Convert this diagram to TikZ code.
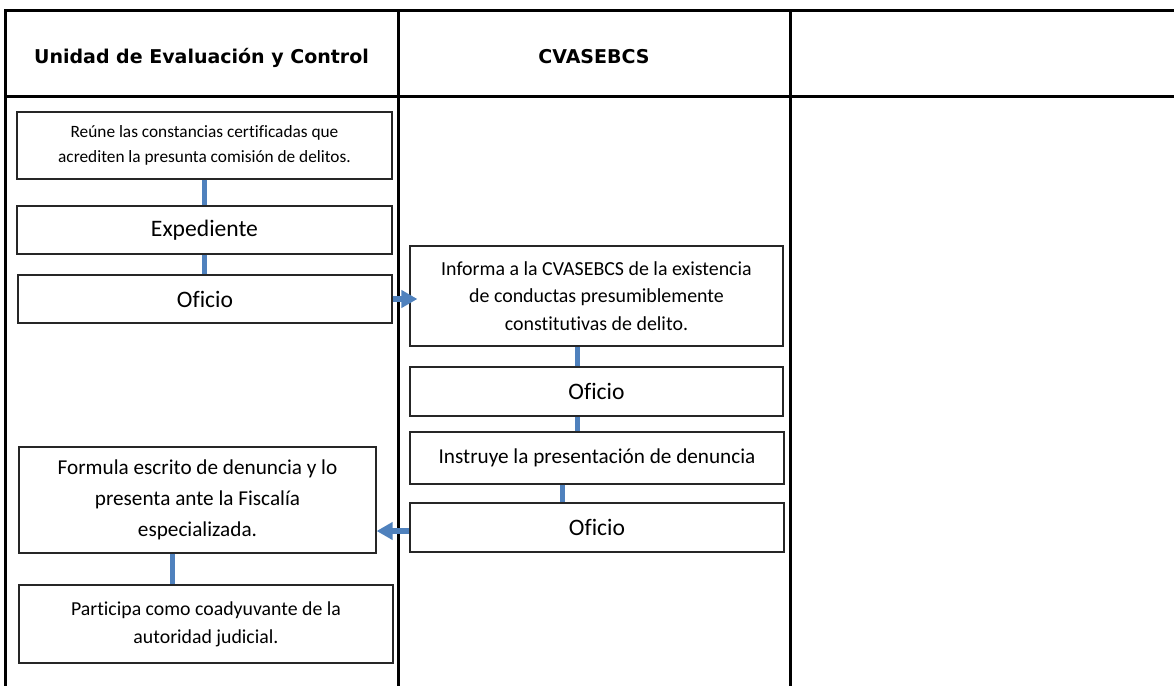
\documentclass[tikz,border=0pt]{standalone}
\usepackage{fontspec}
\setmainfont[Ligatures=NoCommon]{Carlito}
\newfontfamily\headfont{DejaVu Sans}
\usepackage{tikz}
\usetikzlibrary{arrows.meta}
\definecolor{flujo}{RGB}{79,129,189}

\begin{document}
\begin{tikzpicture}[x=0.5pt,y=-0.5pt,
	caja/.style={draw=black!85,line width=0.6pt,inner sep=0pt,align=center},
	enlace/.style={flujo,line width=2.5pt},
	flecha/.style={flujo,line width=3pt,-{Triangle[width=8.5pt,length=8pt]}},
	titulo/.style={anchor=base,font=\headfont\bfseries\fontsize{9.5}{11}\selectfont},
	rejilla/.style={line width=1.5pt}]
	\useasboundingbox (0,0) rectangle (1174,686);
	\draw[rejilla] (5,686) -- (5,10) -- (1174,10);
	\draw[rejilla] (5,96) -- (1174,96);
	\draw[rejilla] (398,10) -- (398,686);
	\draw[rejilla] (790,10) -- (790,686);
	\node[titulo] (uec) at (201.5,63) {Unidad de Evaluación y Control};
	\node[titulo] (cva) at (594,63) {CVASEBCS};
	\node[caja,minimum width=187.5pt,minimum height=33.5pt,font=\fontsize{8.65}{12.25}\selectfont] (reune) at (204.5,145.5) {Reúne las constancias certificadas que\\acrediten la presunta comisión de delitos.};
	\node[caja,minimum width=187.5pt,minimum height=24pt,font=\fontsize{11.8}{14}\selectfont] (exped) at (204.5,230) {Expediente};
	\node[caja,minimum width=187pt,minimum height=24pt,font=\fontsize{11.8}{14}\selectfont] (oficioA) at (205,299) {Oficio};
	\node[caja,minimum width=186.5pt,minimum height=50pt,font=\fontsize{9.95}{13.75}\selectfont] (informa) at (596.5,296) {Informa a la CVASEBCS de la existencia\\de conductas presumiblemente\\constitutivas de delito.};
	\node[caja,minimum width=186.5pt,minimum height=24.5pt,font=\fontsize{11.8}{14}\selectfont] (oficioB) at (596.5,391.5) {Oficio};
	\node[caja,minimum width=187pt,minimum height=26pt,font=\fontsize{10.6}{13}\selectfont] (instruye) at (597,458) {Instruye la presentación de denuncia};
	\node[caja,minimum width=187pt,minimum height=24.5pt,font=\fontsize{11.8}{14}\selectfont] (oficioC) at (597,527.5) {Oficio};
	\node[caja,minimum width=178.5pt,minimum height=53pt,font=\fontsize{10.6}{15.5}\selectfont] (formula) at (197.5,500) {Formula escrito de denuncia y lo\\presenta ante la Fiscalía\\especializada.};
	\node[caja,minimum width=187pt,minimum height=39pt,font=\fontsize{9.9}{14}\selectfont] (participa) at (206,624) {Participa como coadyuvante de la\\autoridad judicial.};
	\draw[enlace] (reune.south) -- (exped.north);
	\draw[enlace] (exped.south) -- (exped.south |- oficioA.north);
	\draw[enlace] ([xshift=-9.75pt]informa.south) -- ([xshift=-9.75pt]oficioB.north);
	\draw[enlace] ([xshift=-9.75pt]oficioB.south) -- ([xshift=-9.75pt]oficioB.south |- instruye.north);
	\draw[enlace] ([xshift=-17.5pt]instruye.south) -- ([xshift=-17.5pt]oficioC.north);
	\draw[enlace] ([xshift=-12.75pt]formula.south) -- ([xshift=-12.75pt]formula.south |- participa.north);
	\draw[flecha,shorten >=-4pt] (oficioA.east) -- (oficioA.east -| informa.west);
	\draw[flecha] ([yshift=-1.75pt]oficioC.west) -- ([yshift=-1.75pt]oficioC.west -| formula.east);
\end{tikzpicture}
\end{document}
